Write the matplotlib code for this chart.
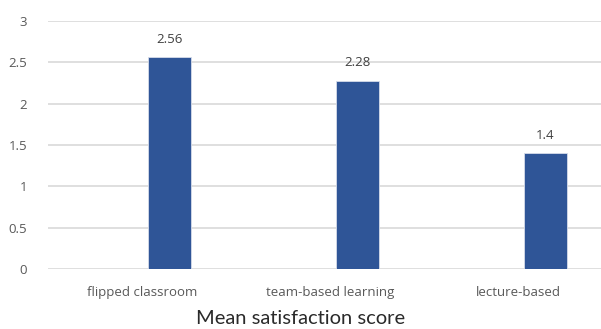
import matplotlib.pyplot as plt

categories = ['flipped classroom', 'team-based learning', 'lecture-based']
scores = [2.56, 2.28, 1.4]
score_labels = ['2.56', '2.28', '1.4']
yticks = [0, 0.5, 1, 1.5, 2, 2.5, 3]
ytick_labels = ['0', '0.5', '1', '1.5', '2', '2.5', '3']

W, H = 601, 329
fig = plt.figure(figsize=(W / 100, H / 100), dpi=100)
ax = fig.add_axes([48 / W, 1 - 269 / H, (W - 48) / W, 248 / H])

offset = 27.5 / 188
xs = [i + offset for i in range(len(categories))]
ax.bar(xs, scores, width=43 / 188, color='#2F5597', edgecolor='#d6dcea',
       linewidth=0.6, zorder=3)

for x, v, s in zip(xs, scores, score_labels):
    ax.annotate(s, (x, v), xytext=(0, 8), textcoords='offset points',
                ha='center', va='bottom', fontsize=9.5, color='#404040',
                family='Open Sans')

ax.set_xlim(-0.5, 2.5 - 11 / 188)
ax.set_ylim(0, 3)
ax.set_yticks(yticks)
ax.set_yticklabels(ytick_labels, family='Open Sans', fontsize=9.5, color='#595959')
ax.set_xticks(range(len(categories)))
ax.set_xticklabels(categories, family='Open Sans', fontsize=9.5, color='#595959')
ax.tick_params(axis='both', length=0)
ax.tick_params(axis='y', pad=15)
ax.tick_params(axis='x', pad=12)

ax.grid(axis='y', color='#d9d9d9', linewidth=1.2, zorder=0)
for sp in ax.spines.values():
    sp.set_visible(False)

fig.text(301 / W, 1 - 318 / H, 'Mean satisfaction score', ha='center', va='center',
         fontsize=14.5, family='Lato', color='#2a2a2a')

fig.savefig('out.png', dpi=100)
